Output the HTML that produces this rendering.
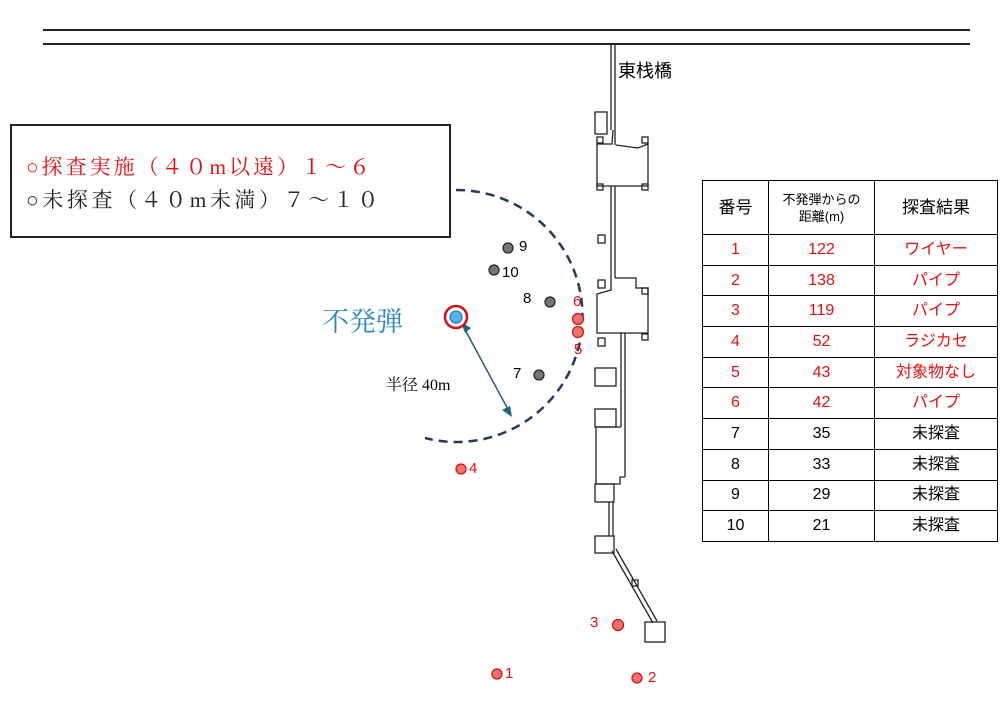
<!DOCTYPE html>
<html><head><meta charset="utf-8"><style>
body{margin:0;background:#fff;width:1005px;height:720px;overflow:hidden;font-family:"Liberation Sans","Noto Sans CJK JP",sans-serif}
.t{position:absolute;font-family:"Liberation Sans","Noto Sans CJK JP",sans-serif}
.s{font-family:"Liberation Serif","Noto Serif CJK SC",serif}
table{position:absolute;left:702px;top:180px;width:295px;height:361px;border-collapse:collapse;table-layout:fixed;font-family:"Liberation Sans","Noto Sans CJK JP",sans-serif}
td{border:1.5px solid #000;text-align:center;font-size:16px;padding:0;line-height:1}
tr{height:30.7px}
.r td{color:#e01010}
</style></head><body>
<svg width="1005" height="720" style="position:absolute;left:0;top:0" fill="none" stroke="#222" stroke-width="1.3">
<line x1="43" y1="30" x2="970" y2="30" stroke-width="2"/>
<line x1="43" y1="44" x2="970" y2="44" stroke-width="2"/>
<line x1="611" y1="44" x2="611" y2="130"/><line x1="615" y1="44" x2="615" y2="145"/>
<rect x="595" y="112" width="12" height="22"/>
<rect x="597" y="137" width="6" height="6"/><rect x="642" y="137" width="6" height="6"/>
<path d="M613 130 L612 144 L597 144 L597 186 L648 186 L648 144 L638 148 L616 145"/>
<rect x="597" y="184" width="6" height="6"/><rect x="642" y="184" width="6" height="6"/>
<line x1="611" y1="186" x2="611" y2="278"/><line x1="615" y1="186" x2="615" y2="278"/>
<rect x="598" y="235" width="7" height="8"/>
<path d="M611 278 L611 290 L597 294 L597 333 L648 333 L648 288 L636 288 L636 278 L615 278"/>
<rect x="598" y="280" width="7" height="8"/><rect x="642" y="288" width="6" height="6"/>
<rect x="598" y="338" width="7" height="8"/><rect x="642" y="334" width="6" height="6"/>
<line x1="621" y1="333" x2="621" y2="427"/><line x1="625" y1="333" x2="625" y2="477"/>
<rect x="595" y="368" width="21" height="18"/><rect x="595" y="409" width="21" height="18"/>
<path d="M596 427 L596 484 L620 484 L620 477 L625 477"/>
<line x1="596" y1="427" x2="621" y2="427"/>
<rect x="595" y="484" width="19" height="18"/>
<line x1="609" y1="502" x2="609" y2="536"/><line x1="613" y1="502" x2="613" y2="536"/>
<rect x="595" y="536" width="19" height="17"/>
<line x1="612" y1="551" x2="653" y2="623"/><line x1="616" y1="549" x2="657" y2="621"/>
<rect x="632" y="580" width="6" height="6"/>
<rect x="645" y="622" width="20" height="20"/>
<path d="M456 190 A126 126 0 1 1 425 438" stroke="#1f3a5a" stroke-width="2.5" stroke-dasharray="9 6"/>
<line x1="463" y1="326" x2="510" y2="413" stroke="#1f5f80" stroke-width="1.5"/>
<polygon points="461,322 471,328 465,333" fill="#1f5f80" stroke="none"/>
<polygon points="512,417 502,410 510,406" fill="#1f5f80" stroke="none"/>
<circle cx="456" cy="317" r="11" stroke="#d01010" stroke-width="2.5" fill="#fff"/>
<circle cx="456" cy="317" r="6" fill="#5ab0e8" stroke="#2a7ab0"/>
<g fill="#777" stroke="#222" stroke-width="1.2">
<circle cx="508" cy="248" r="5"/><circle cx="494" cy="270" r="5"/><circle cx="550" cy="302" r="5"/><circle cx="539" cy="375" r="5"/></g>
<g fill="#f07070" stroke="#d01010" stroke-width="1.2">
<circle cx="578" cy="319" r="5.5"/><circle cx="578" cy="332" r="5.5"/><circle cx="461" cy="469" r="5"/><circle cx="618" cy="625" r="5.5"/><circle cx="497" cy="674" r="5"/><circle cx="637" cy="678" r="5"/></g>
</svg>
<div class="t" style="left:618px;top:57px;font-size:18px">東栈橋</div>
<div style="position:absolute;left:10px;top:124px;width:441px;height:114px;border:2px solid #222;box-sizing:border-box"></div>
<div class="t s" style="left:26px;top:151px;font-size:21px;color:#e01010;letter-spacing:3px">○探査実施（４０m以遠）１～６</div>
<div class="t s" style="left:26px;top:184px;font-size:21px;color:#222;letter-spacing:3.6px">○未探査（４０m未満）７～１０</div>
<div class="t s" style="left:322px;top:300px;font-size:27px;color:#2a85c0">不発弾</div>
<div class="t s" style="left:386px;top:372px;font-size:16px">半径 40m</div>
<div class="t" style="left:519px;top:238px;font-size:15px">9</div>
<div class="t" style="left:502px;top:264px;font-size:15px">10</div>
<div class="t" style="left:523px;top:290px;font-size:15px">8</div>
<div class="t" style="left:513px;top:365px;font-size:15px">7</div>
<div class="t" style="left:573px;top:293px;font-size:15px;color:#e01010">6</div>
<div class="t" style="left:574px;top:341px;font-size:15px;color:#e01010">5</div>
<div class="t" style="left:469px;top:460px;font-size:15px;color:#e01010">4</div>
<div class="t" style="left:590px;top:614px;font-size:15px;color:#e01010">3</div>
<div class="t" style="left:505px;top:665px;font-size:15px;color:#e01010">1</div>
<div class="t" style="left:648px;top:669px;font-size:15px;color:#e01010">2</div>
<table>
<colgroup><col style="width:66px"><col style="width:106px"><col style="width:123px"></colgroup>
<tr style="height:54px"><td style="font-size:17px">番号</td><td style="font-size:13px;line-height:17px">不発弾からの<br>距離(m)</td><td style="font-size:17px">探査結果</td></tr>
<tr class="r"><td>1</td><td>122</td><td>ワイヤー</td></tr>
<tr class="r"><td>2</td><td>138</td><td>パイプ</td></tr>
<tr class="r"><td>3</td><td>119</td><td>パイプ</td></tr>
<tr class="r"><td>4</td><td>52</td><td>ラジカセ</td></tr>
<tr class="r"><td>5</td><td>43</td><td>対象物なし</td></tr>
<tr class="r"><td>6</td><td>42</td><td>パイプ</td></tr>
<tr><td>7</td><td>35</td><td>未探査</td></tr>
<tr><td>8</td><td>33</td><td>未探査</td></tr>
<tr><td>9</td><td>29</td><td>未探査</td></tr>
<tr><td>10</td><td>21</td><td>未探査</td></tr>
</table>
</body></html>
